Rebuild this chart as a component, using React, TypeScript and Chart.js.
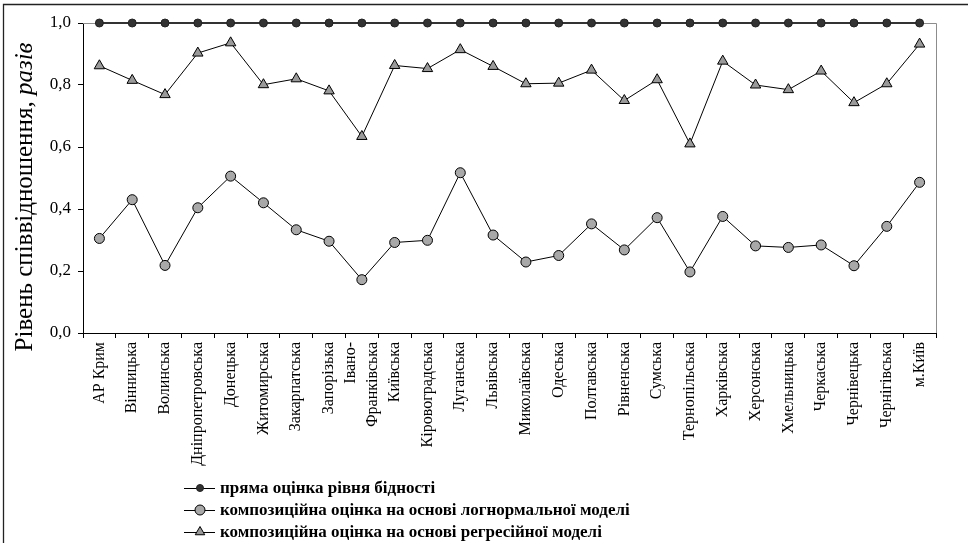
import React, { useEffect, useRef } from "react";
import { Chart, registerables } from "chart.js";

Chart.register(...registerables);

const categories: (string | string[])[] = [
  "АР Крим", "Вінницька", "Волинська", "Дніпропетровська", "Донецька",
  "Житомирська", "Закарпатська", "Запорізька", ["Івано-", "Франківська"],
  "Київська", "Кіровоградська", "Луганська", "Львівська", "Миколаївська",
  "Одеська", "Полтавська", "Рівненська", "Сумська", "Тернопільська",
  "Харківська", "Херсонська", "Хмельницька", "Черкаська", "Чернівецька",
  "Чернігівська", "м.Київ",
];

const directEstimate = [
  1, 1, 1, 1, 1, 1, 1, 1, 1, 1, 1, 1, 1, 1, 1, 1, 1, 1, 1, 1, 1, 1, 1, 1, 1, 1,
];

const lognormalEstimate = [
  0.305, 0.43, 0.218, 0.404, 0.506, 0.42, 0.333, 0.296, 0.172, 0.292, 0.299,
  0.517, 0.316, 0.229, 0.25, 0.352, 0.268, 0.372, 0.197, 0.376, 0.281, 0.276,
  0.284, 0.217, 0.344, 0.486,
];

const regressionEstimate = [
  0.862, 0.815, 0.769, 0.903, 0.936, 0.801, 0.82, 0.781, 0.634, 0.863, 0.853,
  0.914, 0.86, 0.804, 0.806, 0.848, 0.75, 0.817, 0.61, 0.877, 0.8, 0.785,
  0.845, 0.743, 0.804, 0.932,
];

const seriesNames = [
  "пряма оцінка рівня бідності",
  "композиційна оцінка на основі логнормальної моделі",
  "композиційна оцінка на основі регресійної моделі",
];

const yTitleMain = "Рівень співвідношення, ";
const yTitleItalic = "разів";

const SERIF = '"Liberation Serif", "Times New Roman", serif';
const X_FONT_SIZE = 16;
const X_LINE_HEIGHT = 1.35;

const decorPlugin = {
  id: "decor",
  beforeDraw(chart: any) {
    const s = chart.scales.x;
    if (!s) return;
    const items = s.getLabelItems(chart.chartArea);
    const lh = X_FONT_SIZE * X_LINE_HEIGHT;
    items.forEach((it: any) => {
      if (Array.isArray(it.label) && it.label.length > 1 && !it._centered) {
        it.textOffset = it.textOffset - ((it.label.length - 1) * lh) / 2;
        it._centered = true;
      }
    });
  },
  beforeDatasetsDraw(chart: any) {
    const { ctx, chartArea } = chart;
    ctx.save();
    ctx.strokeStyle = "#8c8c8c";
    ctx.lineWidth = 1;
    ctx.beginPath();
    ctx.moveTo(chartArea.left, chartArea.top + 0.5);
    ctx.lineTo(chartArea.right + 0.5, chartArea.top + 0.5);
    ctx.lineTo(chartArea.right + 0.5, chartArea.bottom);
    ctx.stroke();
    ctx.restore();
  },
  afterDraw(chart: any) {
    const { ctx } = chart;
    ctx.save();
    // outer frame
    ctx.strokeStyle = "#222";
    ctx.lineWidth = 1.3;
    ctx.beginPath();
    ctx.moveTo(3.5, 543);
    ctx.lineTo(3.5, 4.5);
    ctx.lineTo(968, 4.5);
    ctx.stroke();

    // y axis title
    ctx.fillStyle = "#000";
    ctx.translate(32, 197);
    ctx.rotate(-Math.PI / 2);
    ctx.textBaseline = "alphabetic";
    ctx.textAlign = "left";
    ctx.font = `25px ${SERIF}`;
    const w1 = ctx.measureText(yTitleMain).width;
    ctx.font = `italic 25px ${SERIF}`;
    const w2 = ctx.measureText(yTitleItalic).width;
    const start = -(w1 + w2) / 2;
    ctx.font = `25px ${SERIF}`;
    ctx.fillText(yTitleMain, start, 0);
    ctx.font = `italic 25px ${SERIF}`;
    ctx.fillText(yTitleItalic, start + w1, 0);
    ctx.restore();

    // legend
    ctx.save();
    const datasets = chart.data.datasets;
    datasets.forEach((ds: any, i: number) => {
      const y = 488 + i * 22;
      ctx.strokeStyle = "#000";
      ctx.lineWidth = 1;
      ctx.beginPath();
      ctx.moveTo(184, y + 0.5);
      ctx.lineTo(215, y + 0.5);
      ctx.stroke();
      const cx = 200;
      ctx.fillStyle = ds.pointBackgroundColor;
      ctx.strokeStyle = ds.pointBorderColor;
      ctx.lineWidth = 1;
      ctx.beginPath();
      if (ds.pointStyle === "triangle") {
        const r = 5.5;
        ctx.moveTo(cx, y - r);
        ctx.lineTo(cx + r * 0.866, y + r * 0.5);
        ctx.lineTo(cx - r * 0.866, y + r * 0.5);
        ctx.closePath();
      } else {
        ctx.arc(cx, y, i === 0 ? 3.5 : 5, 0, Math.PI * 2);
      }
      ctx.fill();
      ctx.stroke();
      ctx.fillStyle = "#000";
      ctx.font = `bold 17px ${SERIF}`;
      ctx.textBaseline = "middle";
      ctx.textAlign = "left";
      ctx.fillText(ds.label, 220, y + 1);
    });
    ctx.restore();
  },
};

export default function App() {
  const canvasRef = useRef<HTMLCanvasElement | null>(null);

  useEffect(() => {
    document.body.style.margin = "0";
    const canvas = canvasRef.current;
    if (!canvas) return;
    const chart = new Chart(canvas, {
      type: "line",
      data: {
        labels: categories as any,
        datasets: [
          {
            label: seriesNames[0],
            data: directEstimate,
            borderColor: "#333",
            borderWidth: 2,
            pointStyle: "circle",
            pointRadius: 4,
            pointBackgroundColor: "#333",
            pointBorderColor: "#222",
            pointBorderWidth: 1,
            tension: 0,
            clip: false as any,
          },
          {
            label: seriesNames[1],
            data: lognormalEstimate,
            borderColor: "#000",
            borderWidth: 1,
            pointStyle: "circle",
            pointRadius: 5,
            pointBackgroundColor: "#a8a8a8",
            pointBorderColor: "#000",
            pointBorderWidth: 1,
            tension: 0,
            clip: false as any,
          },
          {
            label: seriesNames[2],
            data: regressionEstimate,
            borderColor: "#000",
            borderWidth: 1,
            pointStyle: "triangle",
            pointRadius: 6,
            pointBackgroundColor: "#9a9a9a",
            pointBorderColor: "#000",
            pointBorderWidth: 1,
            tension: 0,
            clip: false as any,
          },
        ],
      },
      options: {
        responsive: false,
        animation: false,
        devicePixelRatio: window.devicePixelRatio || 1,
        layout: { padding: { left: 0, top: 23, right: 32, bottom: 0 } },
        plugins: {
          legend: { display: false },
          tooltip: { enabled: false },
        },
        scales: {
          x: {
            type: "category",
            offset: true,
            grid: {
              offset: true,
              drawOnChartArea: false,
              drawTicks: true,
              tickLength: 5,
              color: "#000",
            },
            border: { display: true, color: "#000", width: 1 },
            ticks: {
              autoSkip: false,
              maxRotation: 90,
              minRotation: 90,
              padding: 4,
              color: "#000",
              font: { family: SERIF, size: X_FONT_SIZE, lineHeight: X_LINE_HEIGHT },
            },
            afterFit(scale: any) {
              scale.height = 210;
            },
          },
          y: {
            min: 0,
            max: 1,
            grid: {
              drawOnChartArea: false,
              drawTicks: true,
              tickLength: 5,
              color: "#000",
            },
            border: { display: true, color: "#000", width: 1 },
            ticks: {
              stepSize: 0.2,
              padding: 7,
              color: "#000",
              font: { family: SERIF, size: 17 },
              callback: (v: any) => Number(v).toFixed(1).replace(".", ","),
            },
            afterFit(scale: any) {
              scale.width = 83;
            },
          },
        },
      },
      plugins: [decorPlugin],
    });
    return () => chart.destroy();
  }, []);

  return (
    <div style={{ position: "relative", width: 968, height: 543 }}>
      <canvas ref={canvasRef} width={968} height={543} style={{ display: "block" }} />
    </div>
  );
}
